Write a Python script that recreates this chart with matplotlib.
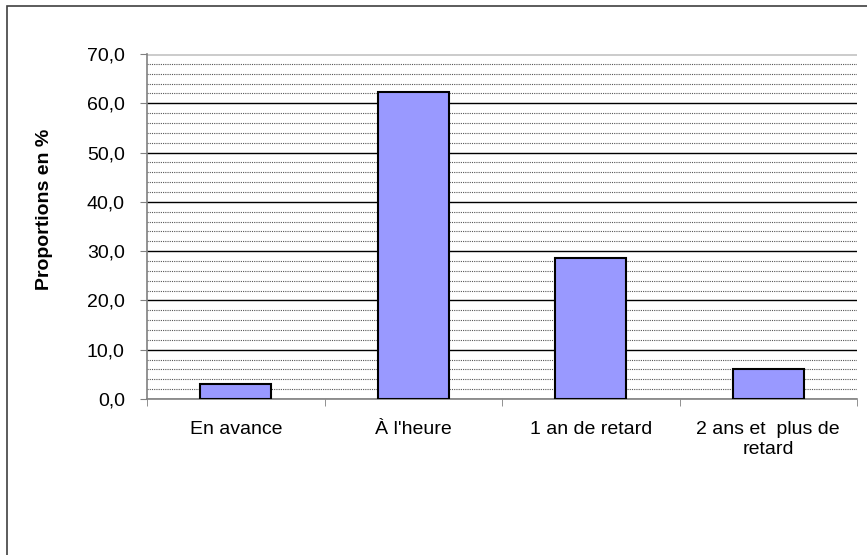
import matplotlib
matplotlib.use("Agg")
import matplotlib.pyplot as plt
from matplotlib.patches import Rectangle
from matplotlib.ticker import MultipleLocator, FuncFormatter

categories = ["En avance", "À l'heure", "1 an de retard", "2 ans et  plus de\nretard"]
values = [3.0, 62.2, 28.6, 6.1]

plt.rcParams['font.family'] = ['Liberation Sans', 'DejaVu Sans']

fig = plt.figure(figsize=(8.67, 5.55), dpi=100)
# outer chart border
fig.patches.append(Rectangle((7 / 867, -0.01), 1.0, 1 - 6 / 555 + 0.01,
                             transform=fig.transFigure, fill=False,
                             edgecolor='#404040', linewidth=1.2))

ax = fig.add_axes([147 / 867, 1 - 399 / 555, (857 - 147) / 867, (399 - 54) / 555])
x = range(len(categories))
ax.bar(x, values, width=0.4, color='#9999FF', edgecolor='black', linewidth=1.5, zorder=3)

ax.set_xlim(-0.5, len(categories) - 0.5)
ax.set_ylim(0, 70)
ax.yaxis.set_major_locator(MultipleLocator(10))
ax.yaxis.set_minor_locator(MultipleLocator(2))
ax.yaxis.set_major_formatter(FuncFormatter(lambda v, p: f"{v:.1f}".replace(".", ",")))
ax.grid(which='major', axis='y', color='black', linewidth=1.0, zorder=1)
ax.grid(which='minor', axis='y', color='#555555', linewidth=0.8, linestyle=(0, (1, 1)), zorder=1)
ax.axhline(70, color='#cccccc', linewidth=1.0, zorder=2)

ax.set_xticks(list(x))
ax.set_xticklabels(categories, fontsize=14)
ax.set_xticks([i + 0.5 for i in range(-1, len(categories))], minor=True)
ax.tick_params(axis='x', which='major', length=0, pad=16)
ax.tick_params(axis='x', which='minor', length=5, color='#808080', direction='out')
ax.tick_params(axis='y', which='major', length=5, color='#808080', labelsize=14, pad=11)
ax.tick_params(axis='y', which='minor', length=0)

for s in ['top', 'right']:
    ax.spines[s].set_visible(False)
for s in ['left', 'bottom']:
    ax.spines[s].set_color('#808080')
    ax.spines[s].set_linewidth(1.2)

ax.set_ylabel("Proportions en %", fontsize=14, fontweight='bold')
ax.yaxis.set_label_coords(-0.132, 0.551)

fig.savefig("out.png", dpi=100)
